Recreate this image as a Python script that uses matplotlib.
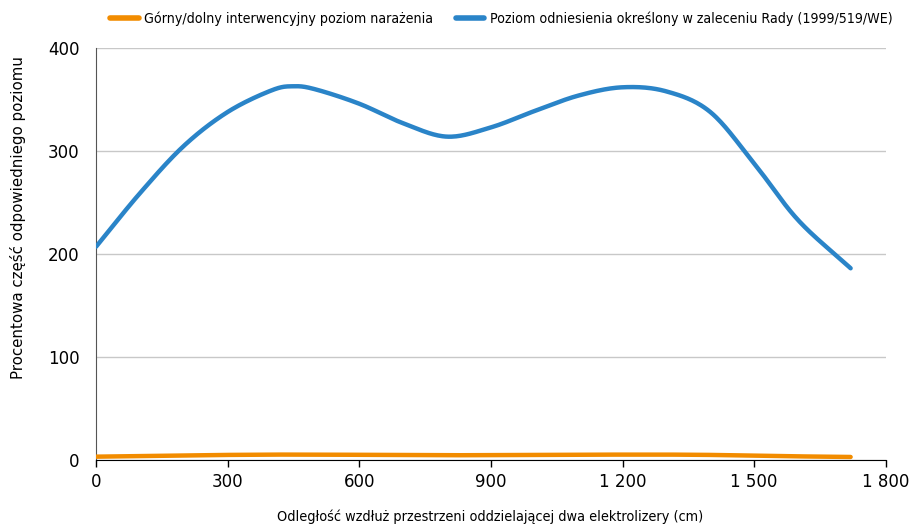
import numpy as np
import matplotlib.pyplot as plt
from matplotlib.lines import Line2D
from matplotlib import font_manager

# distance along the gap between the two electrolysers (cm)
distance = [0, 100, 200, 300, 400, 450, 500, 600, 700, 800, 900, 1000,
            1100, 1200, 1300, 1400, 1500, 1600, 1720]
# percentage of the Council recommendation reference level
reference = [207, 259, 305, 338, 359, 363, 360, 346, 327, 314, 323, 339,
             354, 362, 358, 338, 288, 233, 186]
# percentage of the upper/lower action level
action = [2.8, 3.4, 4.1, 4.5, 4.8, 4.8, 4.8, 4.6, 4.4, 4.2, 4.3, 4.5,
          4.7, 4.8, 4.8, 4.5, 3.8, 3.1, 2.5]

xticks = [0, 300, 600, 900, 1200, 1500, 1800]
xtick_labels = ['0', '300', '600', '900', '1 200', '1 500', '1 800']
yticks = [0, 100, 200, 300, 400]

labels = ['Górny/dolny interwencyjny poziom narażenia',
          'Poziom odniesienia określony w zaleceniu Rady (1999/519/WE)']
colors = ['#F28C00', '#2A84C8']


def smooth(x, y, n=30):
    # Catmull-Rom spline through the points, like a smoothed line chart
    x = np.asarray(x, float)
    y = np.asarray(y, float)
    px = np.concatenate([[2 * x[0] - x[1]], x, [2 * x[-1] - x[-2]]])
    py = np.concatenate([[2 * y[0] - y[1]], y, [2 * y[-1] - y[-2]]])
    xs, ys = [], []
    t = np.linspace(0, 1, n)
    for i in range(1, len(px) - 2):
        for p, out in ((px, xs), (py, ys)):
            p0, p1, p2, p3 = p[i - 1], p[i], p[i + 1], p[i + 2]
            out.append(0.5 * (2 * p1 + (-p0 + p2) * t
                              + (2 * p0 - 5 * p1 + 4 * p2 - p3) * t ** 2
                              + (-p0 + 3 * p1 - 3 * p2 + p3) * t ** 3))
    return np.concatenate(xs), np.concatenate(ys)


fig = plt.figure(figsize=(9.15, 5.24), dpi=100)
ax = fig.add_axes([0.105, 0.123, 0.863, 0.785])

for vals, c in zip([action, reference], colors):
    sx, sy = smooth(distance, vals)
    ax.plot(sx, sy, color=c, lw=3.2, solid_capstyle='round', zorder=3)

ax.set_xlim(0, 1800)
ax.set_ylim(0, 400)
ax.set_xticks(xticks)
ax.set_xticklabels(xtick_labels)
ax.set_yticks(yticks)
ax.grid(axis='y', color='#c8c8c8', lw=1)
ax.set_axisbelow(True)
for s in ['top', 'right']:
    ax.spines[s].set_visible(False)
ax.spines['left'].set_color('#555555')
ax.spines['bottom'].set_color('#000000')
ax.tick_params(axis='x', direction='out', length=5, width=1, pad=5,
               labelsize=12, colors='#000000')
ax.tick_params(axis='y', length=0, pad=12, labelsize=12)

# narrow text for the x title and the legend
narrow = font_manager.FontProperties(family='DejaVu Sans', stretch='condensed', size=10.4)
legend_font = font_manager.FontProperties(family='DejaVu Sans', stretch='condensed', size=10.2)

fig.text(0.536, 0.0, 'Odległość wzdłuż przestrzeni oddzielającej dwa elektrolizery (cm)',
         ha='center', va='bottom', fontproperties=narrow)
fig.text(0.02, 0.585, 'Procentowa część odpowiedniego poziomu', rotation=90,
         ha='center', va='center', family='DejaVu Sans', fontsize=10.8)

handles = [Line2D([], [], color=c, lw=4, solid_capstyle='round') for c in colors]
fig.legend(handles, labels, loc='center', bbox_to_anchor=(0.548, 0.965), ncol=2,
           frameon=False, handlelength=2.0, handletextpad=0.4, columnspacing=1.6,
           prop=legend_font)

fig.savefig('out.png', dpi=100)
